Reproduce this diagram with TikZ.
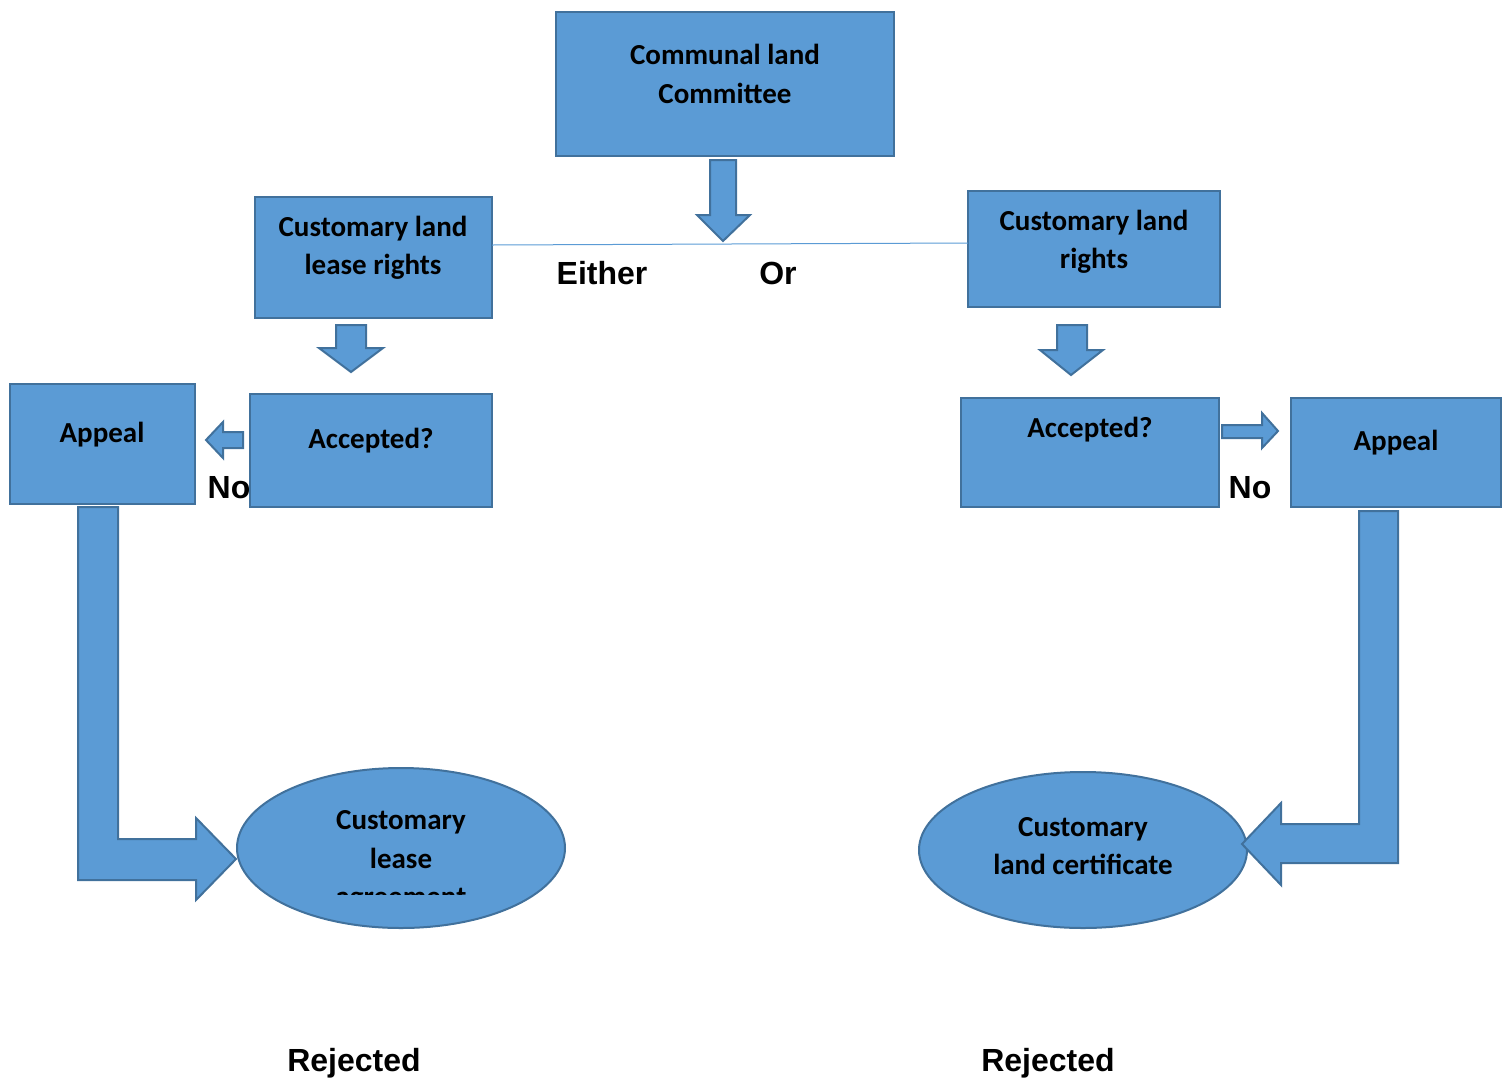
\documentclass[tikz,border=0pt]{standalone}
\usepackage{fontspec}
\setmainfont{Carlito}
\newfontfamily\arialfont{Liberation Sans}
\usetikzlibrary{shapes.geometric}
\definecolor{fillb}{HTML}{5B9BD5}
\definecolor{edgeb}{HTML}{41719C}
\begin{document}
\begin{tikzpicture}[x=1pt,y=-1pt,
  box/.style={draw=edgeb, fill=fillb, line width=2pt, inner sep=0pt, outer sep=0pt},
  blockarrow/.style={draw=edgeb, fill=fillb, line width=2pt, line join=miter},
  boxtext/.style={font=\fontsize{29}{38.5}\selectfont\bfseries, align=center, inner sep=0pt},
  lbl/.style={font=\arialfont\bfseries\fontsize{32}{38}\selectfont, inner sep=0pt}]
\useasboundingbox (0,0) rectangle (1510,1077);

% top box
\node[box, minimum width=338pt, minimum height=144pt] (comm) at (725,84) {};
\node[boxtext] (commt) at (725,74) {Communal land\\Committee};
\draw[blockarrow] (710,160) -- (736,160) -- (736,215) -- (750,215) -- (723,241) -- (697,215) -- (710,215) -- cycle;

% second row
\node[box, minimum width=237pt, minimum height=121pt] (lease) at (373.5,257.5) {};
\node[boxtext] (leaset) at (373,248) {Customary land\\lease rights};
\node[box, minimum width=252pt, minimum height=116pt] (rights) at (1094,249) {};
\node[boxtext] (rightst) at (1094,242) {Customary land\\rights};
\coordinate (lineL) at (492,245);
\coordinate (lineR) at (968,243);
\draw[fillb, line width=1pt] (lineL) -- (lineR);
\node[lbl] (either) at (602,273) {Either};
\node[lbl] (or) at (778,273) {Or};

% down arrows
\draw[blockarrow] (336,325) -- (366,325) -- (366,348) -- (383,348) -- (351,372) -- (319,348) -- (336,348) -- cycle;
\draw[blockarrow] (1057,325) -- (1087,325) -- (1087,350) -- (1103,350) -- (1071,375) -- (1040,350) -- (1057,350) -- cycle;

% left third row
\node[box, minimum width=185pt, minimum height=120pt] (appL) at (102.5,444) {};
\node[boxtext] (appLt) at (102,435) {Appeal};
\node[lbl] (noL) at (229,488) {No};
\node[box, minimum width=242pt, minimum height=113pt] (accL) at (371,450.5) {};
\node[boxtext] (accLt) at (371,441) {Accepted?};
\draw[blockarrow] (243,432) -- (243,448) -- (223,448) -- (223,458) -- (206,440) -- (223,422) -- (223,432) -- cycle;

% right third row
\node[box, minimum width=258pt, minimum height=109pt] (accR) at (1090,452.5) {};
\node[boxtext] (accRt) at (1090,430) {Accepted?};
\node[box, minimum width=210pt, minimum height=109pt] (appR) at (1396,452.5) {};
\node[boxtext] (appRt) at (1396,443) {Appeal};
\node[lbl] (noR) at (1250,488) {No};
\draw[blockarrow] (1222,425) -- (1262,425) -- (1262,413) -- (1278,431) -- (1262,448) -- (1262,438) -- (1222,438) -- cycle;

% ellipses
\node[box, ellipse, minimum width=328pt, minimum height=160pt] (ellL) at (401,848) {};
\begin{scope}
  \clip (230,760) rectangle (570,894);
  \node[boxtext] (ellLt) at (401,861) {Customary\\lease\\agreement};
\end{scope}
\node[box, ellipse, minimum width=328pt, minimum height=156pt] (ellR) at (1083,850) {};
\node[boxtext] (ellRt) at (1083,846) {Customary\\land certificate};

% big bent arrows
\draw[blockarrow] (78,507) -- (118,507) -- (118,839) -- (196,839) -- (196,818) -- (236,859) -- (196,900) -- (196,880) -- (78,880) -- cycle;
\draw[blockarrow] (1359,511) -- (1398,511) -- (1398,863) -- (1281,863) -- (1281,885) -- (1242,844) -- (1281,803) -- (1281,824) -- (1359,824) -- cycle;

% rejected labels
\node[lbl] (rejL) at (354,1063) {Rejected};
\node[lbl] (rejR) at (1048,1063) {Rejected};
\end{tikzpicture}
\end{document}
